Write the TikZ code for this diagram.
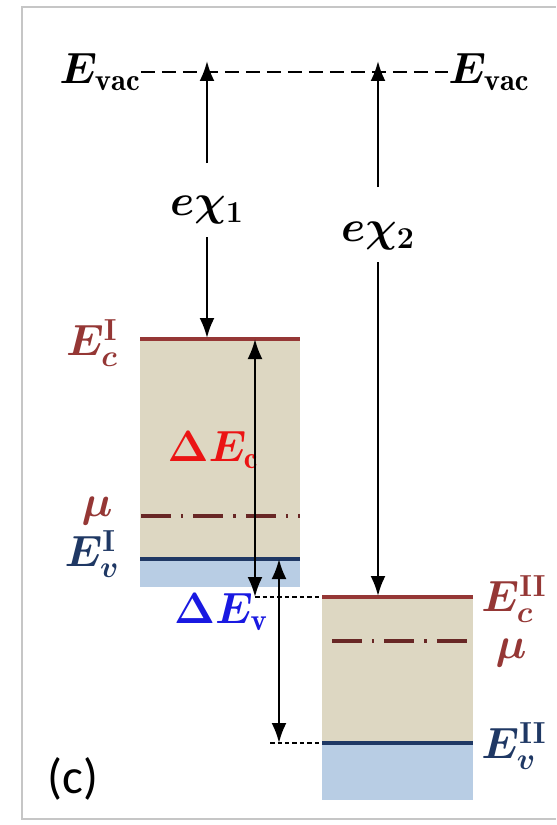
\documentclass[tikz,border=0pt]{standalone}
\usepackage{amsmath}
\usepackage{bm}
\usepackage{fontspec}
\newfontfamily\panelfont{Carlito}
\usetikzlibrary{arrows.meta}
\definecolor{bandfill}{RGB}{221,215,194}
\definecolor{valfill}{RGB}{184,205,228}
\definecolor{cbred}{RGB}{149,55,53}
\definecolor{vbblue}{RGB}{31,56,100}
\definecolor{dered}{RGB}{235,20,20}
\definecolor{devblue}{RGB}{25,25,225}
\tikzset{
  level label/.style={font=\fontsize{25}{30}\selectfont, inner sep=0pt},
  gap arrow/.style={{Latex[length=4mm,width=3mm]}-{Latex[length=4mm,width=3mm]}, line width=1.4pt},
  chi arrow/.style={-{Latex[length=4mm,width=3mm]}, line width=1.4pt},
  cb line/.style={draw=cbred, line width=2.8pt},
  vb line/.style={draw=vbblue, line width=2.8pt},
  mu line/.style={draw=cbred!70!black, line width=1.8pt, dash pattern=on 0.6cm off 0.2cm on 0.05cm off 0.2cm},
  vac line/.style={line width=1.4pt, dash pattern=on 0.28cm off 0.14cm},
  guide line/.style={line width=0.7pt, dash pattern=on 0.09cm off 0.06cm}
}
\begin{document}
\begin{tikzpicture}[x=0.02cm, y=-0.02cm]
  \useasboundingbox (0,0) rectangle (556,825);
  \fill[white] (0,0) rectangle (556,825);
  \draw[gray!45, line width=1.2pt] (556,7) -- (22,7) -- (22,819) -- (556,819);

  % bands of the two materials
  \fill[bandfill] (140,339) rectangle (300,559);
  \fill[valfill] (140,559) rectangle (300,587);
  \fill[bandfill] (322,597) rectangle (473,743);
  \fill[valfill] (322,743) rectangle (473,800);

  % level lines
  \draw[cb line] (140,339) -- (300,339);
  \draw[vb line] (140,559) -- (300,559);
  \draw[mu line] (141,516) -- (300,516);
  \draw[cb line] (322,597) -- (473,597);
  \draw[vb line] (322,743) -- (473,743);
  \draw[mu line] (332,641) -- (473,641);

  % labels
  \node[level label] (evacL) at (100,72) {$\bm{E}_{\mathbf{vac}}$};
  \node[level label, anchor=west] (evacR) at (448,72) {$\bm{E}_{\mathbf{vac}}$};
  \node[level label] (chiA) at (207,210) {$\bm{e\chi_1}$};
  \node[level label] (chiB) at (378,236) {$\bm{e\chi_2}$};
  \node[level label, text=cbred] (ecA) at (92,343) {$\bm{E_c^{\mathbf{I}}}$};
  \node[level label, text=cbred] (muA) at (97,511) {$\bm{\mu}$};
  \node[level label, text=vbblue] (evA) at (92,554) {$\bm{E_v^{\mathbf{I}}}$};
  \node[level label, text=cbred] (ecB) at (514,599) {$\bm{E_c^{\mathbf{II}}}$};
  \node[level label, text=cbred] (muB) at (511,653) {$\bm{\mu}$};
  \node[level label, text=vbblue] (evB) at (514,746) {$\bm{E_v^{\mathbf{II}}}$};
  \node[level label, text=dered] (dEc) at (213,450) {$\bm{\Delta E}_{\mathbf{c}}$};
  \node[level label, text=devblue] (dEv) at (221,612) {$\bm{\Delta E}_{\mathbf{v}}$};
  \node[font=\panelfont\fontsize{28}{32}\selectfont] (panel) at (73,779) {(c)};

  % vacuum level
  \draw[vac line] (evacL.east) -- (evacR.west);

  % arrow end points
  \coordinate (vacA) at (207,61);
  \coordinate (vacB) at (378,61);
  \coordinate (upA) at (207,163);
  \coordinate (dnA) at (207,237);
  \coordinate (upB) at (378,187);
  \coordinate (dnB) at (378,262);
  \coordinate (cA) at (207,338);
  \coordinate (cB) at (378,596);
  \coordinate (ecAr) at (255,339);
  \coordinate (ecBl) at (255,597);
  \coordinate (evAr) at (279,559);
  \coordinate (evBl) at (279,743);

  % electron affinities
  \draw[chi arrow] (upA) -- (vacA);
  \draw[chi arrow] (dnA) -- (cA);
  \draw[chi arrow] (upB) -- (vacB);
  \draw[chi arrow] (dnB) -- (cB);

  % band offsets
  \draw[guide line] (ecBl) -- (322,597);
  \draw[guide line] (270,743) -- (322,743);
  \draw[gap arrow] (ecAr) -- (ecBl);
  \draw[gap arrow] (evAr) -- (evBl);
\end{tikzpicture}
\end{document}
